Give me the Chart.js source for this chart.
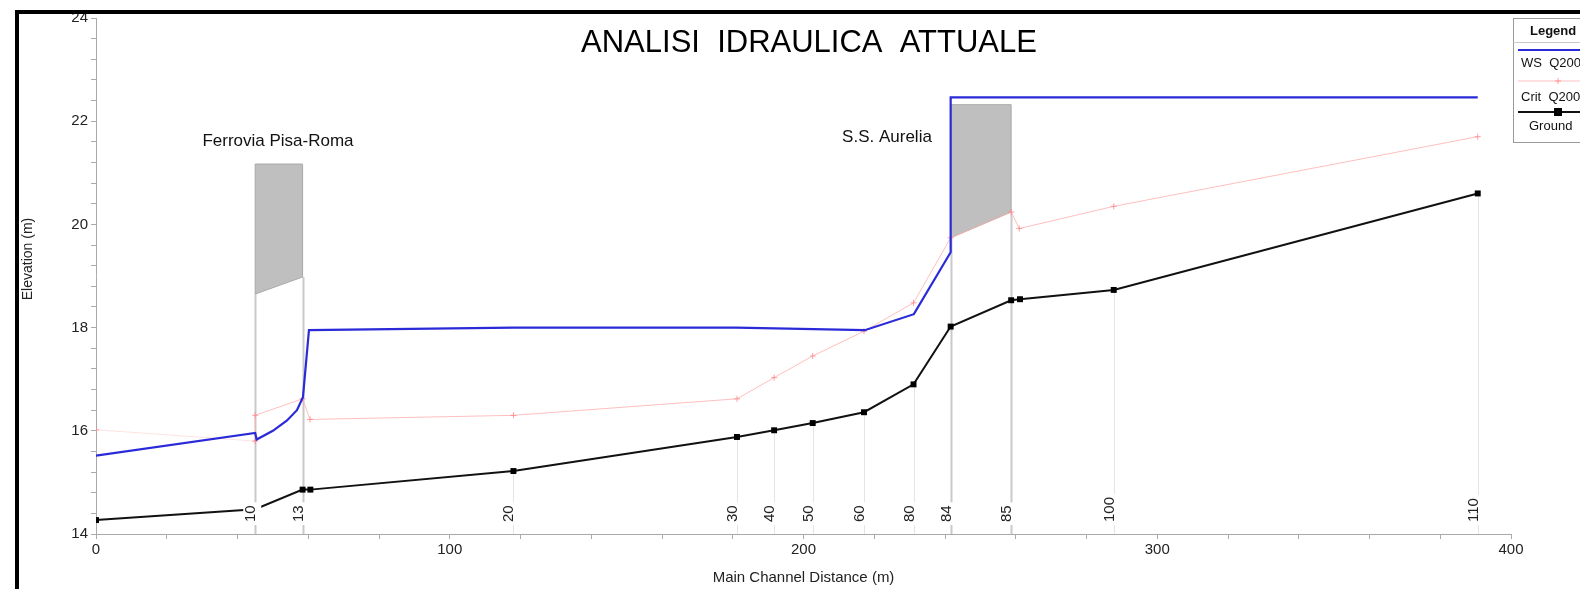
<!DOCTYPE html>
<html>
<head>
<meta charset="utf-8">
<script src="https://cdn.jsdelivr.net/npm/chart.js@4.4.1/dist/chart.umd.min.js"></script>
<style>
  html, body { margin: 0; padding: 0; background: #fff; overflow: hidden; }
</style>
</head>
<body>
<canvas id="myChart" width="1580" height="589"></canvas>
<script>
// profilo: distanza (m) / quota (m)
const wsX = [0, 45, 45.4, 50, 54, 56.8, 58.5, 60.2, 118, 181, 217.3, 231.2, 241.6, 241.6, 390.6];
const wsY = [15.52, 15.96, 15.83, 16.0, 16.2, 16.4, 16.65, 17.95, 18.0, 18.0, 17.95, 18.26, 19.46, 22.46, 22.46];

const critX = [0, 45, 45, 58.4, 60.5, 118, 181.2, 191.7, 202.6, 217.1, 231.1, 241.6, 258.7, 261, 287.7, 390.6];
const critY = [16.02, 15.8, 16.3, 16.62, 16.22, 16.3, 16.62, 17.03, 17.45, 17.93, 18.48, 19.74, 20.24, 19.92, 20.35, 21.7];

const groundX = [0, 45, 58.4, 60.6, 118, 181.2, 191.7, 202.6, 217.1, 231.1, 241.6, 258.7, 261.2, 287.7, 390.6];
const groundY = [14.27, 14.48, 14.86, 14.86, 15.22, 15.88, 16.01, 16.15, 16.36, 16.9, 18.02, 18.53, 18.55, 18.73, 20.6];

// sezioni (river station)
const stationX = [45, 58.4, 118, 181.2, 191.7, 202.6, 217.1, 231.1, 241.6, 258.7, 287.7, 390.6];
const stationLabels = ['10', '13', '20', '30', '40', '50', '60', '80', '84', '85', '100', '110'];

// impalcati ponti
const ferroviaX = [45, 58.4];
const ferroviaLow = [18.65, 18.98];
const ferroviaHigh = [21.17, 21.17];
const aureliaX = [241.6, 258.7];
const aureliaLow = [19.74, 20.24];
const aureliaHigh = [22.32, 22.32];

const bridges = [
    { name: 'Ferrovia Pisa-Roma', xs: ferroviaX, low: ferroviaLow, high: ferroviaHigh, labelX: 278, labelY: 141 },
    { name: 'S.S. Aurelia', xs: aureliaX, low: aureliaLow, high: aureliaHigh, labelX: 887, labelY: 137 },
];

const FONT = "'Liberation Sans', Arial, sans-serif";

const toPoints = (xs, ys) => xs.map((x, i) => ({ x: x, y: ys[i] }));

const bridgeLow = (sx) => {
    for (const b of bridges) {
        const i = b.xs.indexOf(sx);
        if (i >= 0) return b.low[i];
    }
    return null;
};

const profilePlugin = {
    id: 'profile',
    beforeDatasetsDraw(chart) {
        const { ctx, scales: { x, y } } = chart;
        ctx.save();
        // linee verticali delle sezioni
        stationX.forEach((sx) => {
            const px = Math.round(x.getPixelForValue(sx)) + 0.5;
            const low = bridgeLow(sx);
            ctx.beginPath();
            if (low !== null) {
                ctx.strokeStyle = '#c9c9c9';
                ctx.lineWidth = 2;
                ctx.moveTo(px, y.bottom);
                ctx.lineTo(px, y.getPixelForValue(low));
            } else {
                const gi = groundX.indexOf(sx);
                ctx.strokeStyle = '#e4e4e4';
                ctx.lineWidth = 1;
                ctx.moveTo(px, y.bottom);
                ctx.lineTo(px, y.getPixelForValue(groundY[gi]));
            }
            ctx.stroke();
        });
        // impalcati
        bridges.forEach((b) => {
            ctx.beginPath();
            ctx.moveTo(x.getPixelForValue(b.xs[0]), y.getPixelForValue(b.low[0]));
            ctx.lineTo(x.getPixelForValue(b.xs[1]), y.getPixelForValue(b.low[1]));
            ctx.lineTo(x.getPixelForValue(b.xs[1]), y.getPixelForValue(b.high[1]));
            ctx.lineTo(x.getPixelForValue(b.xs[0]), y.getPixelForValue(b.high[0]));
            ctx.closePath();
            ctx.fillStyle = '#bfbfbf';
            ctx.fill();
            ctx.strokeStyle = '#a9a9a9';
            ctx.lineWidth = 1;
            ctx.stroke();
        });
        ctx.restore();
    },
    afterDatasetsDraw(chart) {
        const { ctx, scales: { x, y } } = chart;
        ctx.save();
        // etichette sezioni (sfondo bianco sopra le linee)
        ctx.font = '15px ' + FONT;
        stationX.forEach((sx, i) => {
            const px = x.getPixelForValue(sx) + 1;
            const w = ctx.measureText(stationLabels[i]).width;
            ctx.save();
            ctx.translate(px, y.bottom - 12);
            ctx.rotate(-Math.PI / 2);
            ctx.fillStyle = '#fff';
            ctx.fillRect(-3, -13, w + 6, 18);
            ctx.fillStyle = '#222';
            ctx.textAlign = 'left';
            ctx.textBaseline = 'alphabetic';
            ctx.fillText(stationLabels[i], 0, -1);
            ctx.restore();
        });
        // nomi ponti
        ctx.font = '17px ' + FONT;
        ctx.fillStyle = '#111';
        ctx.textAlign = 'center';
        ctx.textBaseline = 'middle';
        bridges.forEach((b) => ctx.fillText(b.name, b.labelX, b.labelY));
        ctx.restore();
    },
    afterDraw(chart) {
        const { ctx } = chart;
        const ds = chart.data.datasets;
        ctx.save();
        // titolo
        ctx.font = '31px ' + FONT;
        ctx.fillStyle = '#000';
        ctx.textAlign = 'center';
        ctx.textBaseline = 'middle';
        ctx.fillText('ANALISI  IDRAULICA  ATTUALE', 809, 43);

        // titolo asse y
        ctx.save();
        ctx.translate(28, 259);
        ctx.rotate(-Math.PI / 2);
        ctx.font = '14px ' + FONT;
        ctx.fillStyle = '#222';
        ctx.fillText('Elevation (m)', 0, 0);
        ctx.restore();

        // legenda
        ctx.fillStyle = '#fff';
        ctx.fillRect(1513, 18, 80, 124);
        ctx.strokeStyle = '#9a9a9a';
        ctx.lineWidth = 1;
        ctx.strokeRect(1513.5, 18.5, 90, 124);
        ctx.beginPath();
        ctx.moveTo(1513, 42.5);
        ctx.lineTo(1580, 42.5);
        ctx.strokeStyle = '#c8c8c8';
        ctx.stroke();
        ctx.textAlign = 'left';
        ctx.fillStyle = '#111';
        ctx.font = 'bold 13px ' + FONT;
        ctx.fillText('Legend', 1530, 31);
        ctx.font = '13px ' + FONT;
        const rows = [
            { d: ds[0], lineY: 50, textX: 1521, textY: 63 },
            { d: ds[1], lineY: 81, textX: 1521, textY: 97 },
            { d: ds[2], lineY: 112, textX: 1529, textY: 126 },
        ];
        rows.forEach((r) => {
            ctx.beginPath();
            ctx.strokeStyle = r.d.borderColor;
            ctx.lineWidth = r.d.borderWidth;
            ctx.moveTo(1518, r.lineY);
            ctx.lineTo(1580, r.lineY);
            ctx.stroke();
            if (r.d.pointRadius > 0) {
                ctx.fillStyle = r.d.pointBackgroundColor;
                ctx.strokeStyle = r.d.pointBorderColor;
                Chart.helpers.drawPoint(ctx, {
                    pointStyle: r.d.pointStyle,
                    radius: r.d.pointRadius,
                    borderWidth: 1,
                }, 1558, r.lineY);
            }
            ctx.fillStyle = '#111';
            ctx.fillText(r.d.label, r.textX, r.textY);
        });

        // cornice
        ctx.fillStyle = '#000';
        ctx.fillRect(15, 10, 4, 579);
        ctx.fillRect(15, 10, 1565, 4);
        ctx.restore();
    },
};

const canvas = document.getElementById('myChart');
const chart = new Chart(canvas, {
    type: 'line',
    data: {
        datasets: [
            {
                label: 'WS  Q200',
                data: toPoints(wsX, wsY),
                borderColor: '#2a2ad8',
                borderWidth: 2.2,
                pointRadius: 0,
                tension: 0,
                order: 0,
            },
            {
                label: 'Crit  Q200',
                data: toPoints(critX, critY),
                borderColor: 'rgba(255, 175, 175, 0.8)',
                borderWidth: 1,
                pointStyle: 'cross',
                pointRadius: 3,
                pointBorderColor: 'rgba(255, 140, 140, 0.85)',
                pointBackgroundColor: 'rgba(255, 140, 140, 0.85)',
                pointBorderWidth: 1,
                tension: 0,
                order: 2,
                segment: {
                    // tratto di valle appena visibile
                    borderColor: (c) => (c.p1DataIndex === 1 ? 'rgba(255, 190, 190, 0.45)' : undefined),
                },
            },
            {
                label: 'Ground',
                data: toPoints(groundX, groundY),
                borderColor: '#111',
                borderWidth: 2,
                pointStyle: 'rect',
                pointRadius: 4.2,
                pointBorderColor: '#000',
                pointBackgroundColor: '#000',
                pointBorderWidth: 0,
                tension: 0,
                order: 1,
            },
        ],
    },
    options: {
        responsive: false,
        animation: false,
        events: [],
        layout: { padding: { left: 0, right: 69, top: 18, bottom: 0 } },
        plugins: {
            legend: { display: false },
            tooltip: { enabled: false },
        },
        scales: {
            x: {
                type: 'linear',
                min: 0,
                max: 400,
                afterFit: (scale) => { scale.height = 55; },
                ticks: {
                    stepSize: 20,
                    autoSkip: false,
                    maxRotation: 0,
                    padding: 2,
                    color: '#222',
                    font: { family: FONT, size: 15 },
                    callback: (v) => (v % 100 === 0 ? v : ''),
                },
                grid: { drawOnChartArea: false, drawTicks: true, tickLength: 5, color: '#aaa' },
                border: { color: '#aaa' },
                title: {
                    display: true,
                    text: 'Main Channel Distance (m)',
                    color: '#222',
                    font: { family: FONT, size: 15 },
                    padding: { top: 0, bottom: 2 },
                },
            },
            y: {
                min: 14,
                max: 24,
                afterFit: (scale) => { scale.width = 96; },
                ticks: {
                    stepSize: 0.4,
                    autoSkip: false,
                    padding: 3,
                    color: '#222',
                    font: { family: FONT, size: 15 },
                    callback: (v) => (Math.abs(v / 2 - Math.round(v / 2)) < 1e-6 ? Math.round(v) : ''),
                },
                grid: { drawOnChartArea: false, drawTicks: true, tickLength: 5, color: '#aaa' },
                border: { color: '#aaa' },
            },
        },
    },
    plugins: [profilePlugin],
});
</script>
</body>
</html>
